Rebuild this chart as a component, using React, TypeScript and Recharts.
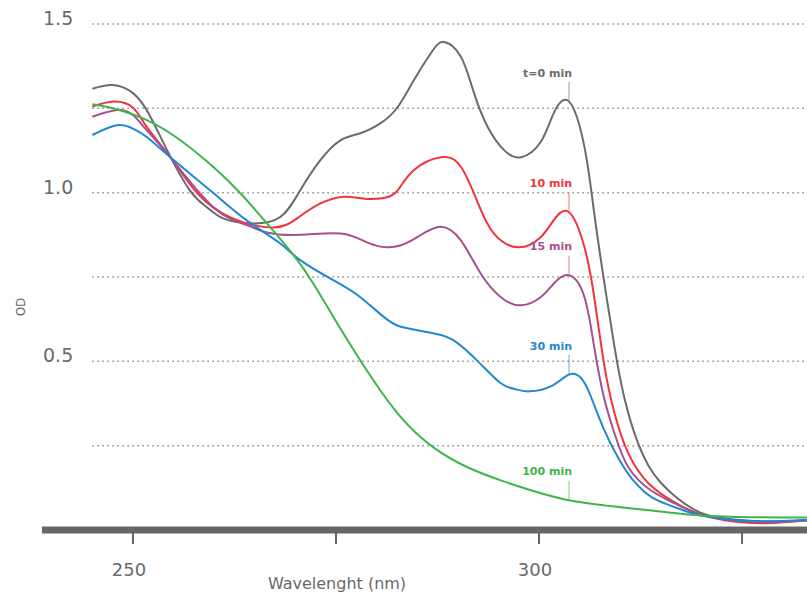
import React from 'react';
import { LineChart, Line, XAxis, YAxis, ReferenceLine, ReferenceDot } from 'recharts';

// t=0 min
const wlT0 = [245, 247.5, 250, 252, 254.2, 257, 259.1, 261.1, 264.5, 268.1, 270.6, 273.1, 275.6, 278, 280.5, 282.6, 284.6, 286.7, 288.3, 290.4, 292, 293.7, 295.7, 297.8, 300.2, 301.8, 303.7, 305.6, 306.8, 308, 309.3, 310.5, 312, 313.5, 315, 317, 319, 321, 324, 328, 333];
const odT0 = [1.308, 1.319, 1.295, 1.232, 1.126, 1.007, 0.957, 0.924, 0.909, 0.927, 1.007, 1.097, 1.156, 1.176, 1.206, 1.254, 1.334, 1.414, 1.447, 1.402, 1.295, 1.194, 1.126, 1.105, 1.15, 1.235, 1.27, 1.135, 0.939, 0.74, 0.542, 0.393, 0.27, 0.19, 0.14, 0.095, 0.062, 0.042, 0.031, 0.025, 0.028];

// 10 min
const wl10 = [245, 247.6, 250, 251.7, 254.6, 257.9, 262, 267.3, 270.4, 273.1, 276, 278.5, 281, 282.6, 284.6, 287.9, 290.4, 292.5, 294.4, 297.4, 300.2, 301.8, 303.7, 305.6, 306.8, 308, 309.3, 311, 313.5, 316.7, 320, 324, 328, 333];
const od10 = [1.255, 1.27, 1.252, 1.195, 1.105, 0.999, 0.927, 0.897, 0.927, 0.968, 0.988, 0.982, 0.985, 1.007, 1.067, 1.105, 1.076, 0.968, 0.88, 0.838, 0.868, 0.918, 0.942, 0.838, 0.69, 0.494, 0.346, 0.227, 0.138, 0.082, 0.045, 0.025, 0.02, 0.028];

// 15 min
const wl15 = [245, 248, 250, 251.7, 254.6, 259.9, 264, 266.5, 270.6, 275.6, 278.9, 281.2, 283, 285, 287.8, 290.4, 292.8, 295.3, 297.8, 300.2, 301.8, 303.7, 305.6, 306.8, 308, 309.3, 311, 313.8, 316.7, 320, 324, 328, 333];
const od15 = [1.225, 1.245, 1.23, 1.185, 1.105, 0.957, 0.904, 0.882, 0.875, 0.879, 0.852, 0.838, 0.844, 0.868, 0.899, 0.858, 0.761, 0.69, 0.666, 0.69, 0.73, 0.755, 0.69, 0.542, 0.393, 0.286, 0.186, 0.117, 0.079, 0.045, 0.028, 0.023, 0.03];

// 30 min
const wl30 = [245, 248, 250, 251.7, 254.6, 259.9, 264, 268.1, 270.6, 274.7, 278, 281.4, 283.8, 287, 289.5, 292.6, 295.3, 297, 298.8, 301.7, 303.7, 305.2, 306.4, 308, 309.8, 311.5, 313, 314.6, 317.8, 320, 324, 328, 333];
const od30 = [1.171, 1.2, 1.19, 1.165, 1.105, 0.999, 0.918, 0.85, 0.8, 0.74, 0.69, 0.622, 0.598, 0.583, 0.562, 0.497, 0.435, 0.418, 0.411, 0.429, 0.461, 0.45, 0.395, 0.298, 0.212, 0.15, 0.113, 0.088, 0.058, 0.043, 0.03, 0.026, 0.03];

// 100 min
const wl100 = [245, 247.5, 251.7, 255.8, 259.9, 263.2, 266.5, 269.8, 272.2, 274.7, 277.2, 279.6, 283, 287, 291.2, 295.3, 299, 303.7, 308, 311.4, 316, 320, 326, 333];
const od100 = [1.262, 1.25, 1.215, 1.156, 1.076, 0.999, 0.909, 0.814, 0.731, 0.631, 0.533, 0.444, 0.334, 0.245, 0.186, 0.147, 0.118, 0.088, 0.073, 0.064, 0.052, 0.043, 0.038, 0.037];

const seriesNames = ['t=0 min', '10 min', '15 min', '30 min', '100 min'];
const seriesWavelengths = [wlT0, wl10, wl15, wl30, wl100];
const seriesValues = [odT0, od10, od15, od30, od100];
const seriesColors = ['#6b6b6b', '#f2333d', '#a5508f', '#1e88d0', '#3cb54a'];

const yGridValues = [0.25, 0.5, 0.75, 1.0, 1.25, 1.5];
const yTickValues = [0.5, 1.0, 1.5];
const xTickValues = [250, 275, 300, 325];
const xLabeledTicks = [250, 300];
const xDomain = [238.8, 333];
const gridStart = 245;
const annotationWavelength = 303.7;

const seriesData = seriesWavelengths.map((wls, s) => wls.map((w, i) => ({ w, od: seriesValues[s][i] })));
const peakValues = seriesWavelengths.map((wls, s) => seriesValues[s][wls.indexOf(annotationWavelength)]);

const FONT = 'DejaVu Sans';

const XTick = (props: any) => {
  const { x, payload } = props;
  if (!xLabeledTicks.includes(payload.value)) return <g />;
  return (
    <text x={x - 4} y={569} textAnchor="middle" dominantBaseline="central" fill="#6a6a6a" fontSize={18} fontFamily={FONT}>
      {payload.value}
    </text>
  );
};

export default function App() {
  return (
    <div style={{ position: 'absolute', left: 0, top: 0, width: 807, height: 594, background: '#fff' }}>
      <LineChart width={807} height={594} margin={{ top: 24, right: 0, left: 42, bottom: 0 }}>
        <XAxis
          dataKey="w"
          type="number"
          domain={xDomain}
          ticks={xTickValues}
          allowDataOverflow
          allowDuplicatedCategory={false}
          height={64}
          axisLine={{ stroke: '#666', strokeWidth: 7 }}
          tickLine={{ stroke: '#666', strokeWidth: 2 }}
          tickSize={14}
          tick={<XTick />}
          label={() => (
            <text x={337} y={583} textAnchor="middle" dominantBaseline="central" fill="#6a6a6a" fontSize={16} fontFamily={FONT}>
              Wavelenght (nm)
            </text>
          )}
        />
        <YAxis type="number" dataKey="od" domain={[0, 1.5]} allowDataOverflow hide width={0} />
        {yGridValues.map((v) => (
          <ReferenceLine
            key={'g' + v}
            segment={[{ x: gridStart, y: v }, { x: xDomain[1], y: v }]}
            stroke="#8a8a8a"
            strokeWidth={1.5}
            strokeDasharray="1.5 3.5"
          />
        ))}
        {yTickValues.map((v) => (
          <ReferenceDot
            key={'y' + v}
            x={xDomain[0]}
            y={v}
            r={1}
            ifOverflow="visible"
            shape={(p: any) => (
              <text x={p.cx + 1} y={p.cy - 6} textAnchor="start" dominantBaseline="central" fill="#6a6a6a" fontSize={19} fontFamily={FONT}>
                {v.toFixed(1)}
              </text>
            )}
          />
        ))}
        <ReferenceDot
          x={xDomain[0]}
          y={0.75}
          r={1}
          ifOverflow="visible"
          shape={(p: any) => (
            <text x={p.cx - 21} y={p.cy + 30} transform={`rotate(-90, ${p.cx - 21}, ${p.cy + 30})`} textAnchor="middle" dominantBaseline="central" fill="#6a6a6a" fontSize={12} fontFamily={FONT}>
              OD
            </text>
          )}
        />
        {seriesData.map((d, s) => (
          <Line
            key={seriesNames[s]}
            data={d}
            type="natural"
            dataKey="od"
            stroke={seriesColors[s]}
            strokeWidth={2}
            dot={false}
            activeDot={false}
            isAnimationActive={false}
          />
        ))}
        {peakValues.map((peak, s) => (
          <ReferenceLine
            key={'l' + s}
            segment={[{ x: annotationWavelength, y: peak + 0.004 }, { x: annotationWavelength, y: peak + 0.058 }]}
            stroke={seriesColors[s]}
            strokeOpacity={0.7}
            strokeWidth={1}
          />
        ))}
        {peakValues.map((peak, s) => (
          <ReferenceDot
            key={'t' + s}
            x={annotationWavelength}
            y={peak + 0.084}
            r={1}
            shape={(p: any) => (
              <text x={p.cx + 3} y={p.cy} textAnchor="end" dominantBaseline="central" fill={seriesColors[s]} fontSize={11} fontWeight="bold" fontFamily={FONT}>
                {seriesNames[s]}
              </text>
            )}
          />
        ))}
      </LineChart>
    </div>
  );
}
